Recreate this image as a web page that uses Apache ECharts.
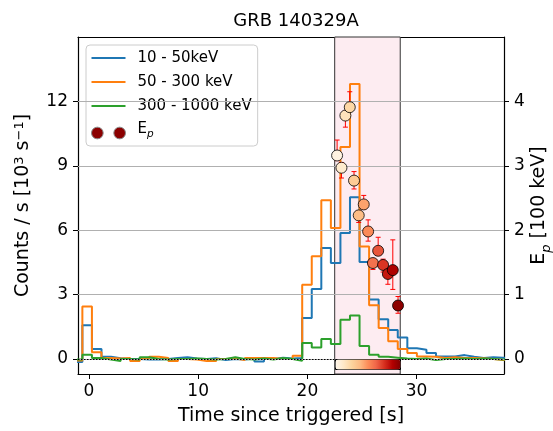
<!DOCTYPE html>
<html>
<head>
<meta charset="utf-8">
<script src="https://cdn.jsdelivr.net/npm/echarts@6/dist/echarts.min.js"></script>
<style>
  html, body { margin: 0; padding: 0; background: #fff; }
  #chart { width: 553px; height: 431px; }
</style>
</head>
<body>
<div id="chart"></div>
<script>
// ---- data ----
const binEdges = [-1.475, -0.6, 0.275, 1.15, 2.025, 2.9, 3.775, 4.65, 5.525, 6.4, 7.275, 8.15, 9.025, 9.9, 10.775, 11.65, 12.525, 13.4, 14.275, 15.15, 16.025, 16.9, 17.775, 18.65, 19.525, 20.4, 21.275, 22.15, 23.025, 23.9, 24.775, 25.65, 26.525, 27.4, 28.275, 29.15, 30.025, 30.9, 31.775, 32.65, 33.525, 34.4, 35.275, 36.15, 37.025, 37.9, 38.775];

const counts10to50 = [-0.14, 1.57, 0.47, 0.10, 0.03, 0.00, 0.00, -0.02, -0.02, 0.00, 0.05, 0.08, 0.02, 0.00, 0.03, -0.05, 0.00, -0.03, 0.02, -0.12, 0.00, 0.06, 0.02, 0.05,
  1.91, 3.26, 5.17, 4.47, 5.87, 7.53, 4.52, 2.77, 1.85, 1.35, 1.00, 0.50,
  0.43, 0.28, 0.12, 0.12, 0.18, 0.10, 0.05, 0.08, 0.06, 0.05];

const counts50to300 = [-0.07, 2.45, 0.31, 0.05, 0.02, 0.05, -0.10, 0.00, 0.10, 0.05, -0.10, 0.00, -0.03, -0.10, -0.10, 0.00, 0.02, -0.05, 0.05, 0.05, 0.05, 0.00, 0.00, 0.15,
  3.46, 4.78, 7.39, 6.10, 9.87, 12.81, 5.24, 2.50, 1.44, 0.82, 0.47, 0.28,
  0.12, 0.10, 0.05, 0.08, 0.05, 0.05, 0.03, 0.00, -0.05, -0.05];

const counts300to1000 = [-0.03, 0.20, 0.05, -0.03, -0.10, 0.00, -0.02, 0.08, 0.00, -0.02, 0.00, 0.00, 0.02, 0.00, -0.02, 0.00, 0.08, 0.00, -0.02, 0.02, -0.03, 0.05, 0.00, -0.08,
  0.74, 0.54, 0.93, 0.70, 1.83, 2.02, 0.60, 0.20, 0.10, 0.06, 0.02, 0.00,
  0.02, -0.05, 0.00, 0.00, 0.02, 0.00, 0.02, 0.00, -0.03, 0.00];

const epTime  = [22.72, 23.12, 23.48, 23.88, 24.27, 24.70, 25.16, 25.56, 26.00, 26.48, 26.93, 27.37, 27.82, 28.30];
const epValue = [3.16, 2.97, 3.78, 3.91, 2.77, 2.23, 2.40, 1.98, 1.49, 1.68, 1.46, 1.32, 1.38, 0.83];
const epLow   = [3.08, 2.81, 3.60, 3.85, 2.64, 2.12, 2.33, 1.83, 1.39, 1.62, 1.35, 1.16, 1.08, 0.71];
const epHigh  = [3.40, 3.05, 3.85, 4.15, 2.91, 2.30, 2.54, 2.16, 1.55, 1.89, 1.55, 1.40, 1.85, 0.97];

const highlightRange = [22.5, 28.5];
const xTicks = [0, 10, 20, 30];
const yTicksLeft = [0, 3, 6, 9, 12];
const yTicksRight = [0, 1, 2, 3, 4];
const seriesNames = ['10 - 50keV', '50 - 300 keV', '300 - 1000 keV', 'Ep'];
const orRd = ['#fff7ec', '#fee8c8', '#fdd49e', '#fdbb84', '#fc8d59', '#ef6548', '#d7301f', '#b30000', '#7f0000'];

// ---- build ----
const FONT = 'DejaVu Sans';
function stepData(vals) {
  const d = vals.map((v, i) => [binEdges[i], v]);
  d.push([binEdges[vals.length], vals[vals.length - 1]]);
  return d;
}
const epData = epTime.map((t, i) => [t, epValue[i]]);
const errData = epTime.map((t, i) => [t, epLow[i], epHigh[i]]);

const chart = echarts.init(document.getElementById('chart'), null, { renderer: 'canvas' });

const lineCommon = { type: 'line', step: 'end', symbol: 'none', showSymbol: false, z: 3, animation: false,
  xAxisIndex: 0, yAxisIndex: 0 };
const lineIcon = 'path://M0,0h34v2.2h-34z';

const option = {
  animation: false,
  title: {
    text: 'GRB 140329A', left: 291, top: 7, textAlign: 'center',
    textStyle: { fontFamily: FONT, fontSize: 18, fontWeight: 'normal', color: '#000' }
  },
  grid: { left: 78, right: 49, top: 37, bottom: 57, containLabel: false, outerBoundsMode: 'none' },
  legend: {
    orient: 'vertical', left: 86, top: 45,
    padding: [5, 6, 6, 5], itemWidth: 34, itemHeight: 14, itemGap: 8, symbolKeepAspect: true,
    backgroundColor: 'rgba(255,255,255,0.8)', borderColor: '#cccccc', borderWidth: 1, borderRadius: 4,
    textStyle: {
      fontFamily: FONT, fontSize: 15, lineHeight: 16, color: '#000', padding: [0, 0, 0, 7],
      rich: {
        e: { fontFamily: FONT, fontSize: 15, lineHeight: 14, color: '#000', verticalAlign: 'bottom', padding: [0, 0, 3, 0] },
        p: { fontFamily: FONT, fontSize: 10.5, lineHeight: 12, fontStyle: 'italic', color: '#000', verticalAlign: 'bottom' }
      }
    },
    formatter: function (name) { return name === 'Ep' ? '{e|E}{p|p}' : name; },
    data: [
      { name: seriesNames[0], icon: lineIcon, itemStyle: { color: '#1f77b4' } },
      { name: seriesNames[1], icon: lineIcon, itemStyle: { color: '#ff7f0e' } },
      { name: seriesNames[2], icon: lineIcon, itemStyle: { color: '#2ca02c' } },
      { name: 'Ep', icon: 'path://M1,6a5.5,5.5 0 1,0 11,0a5.5,5.5 0 1,0 -11,0M22,6a5.5,5.5 0 1,0 11,0a5.5,5.5 0 1,0 -11,0',
        itemStyle: { color: '#8b0000', borderColor: '#888', borderWidth: 1 } }
    ]
  },
  xAxis: [{
    type: 'value', min: -1, max: 38, position: 'bottom',
    name: 'Time since triggered [s]', nameLocation: 'middle', nameGap: 33, nameMoveOverlap: false,
    nameTextStyle: { fontFamily: FONT, fontSize: 19, color: '#000' },
    axisLine: { show: true, onZero: false, lineStyle: { color: '#000', width: 1.2 } },
    axisTick: { show: true, length: 5, inside: false, customValues: xTicks, lineStyle: { color: '#000' } },
    axisLabel: { customValues: xTicks, margin: 9, fontFamily: FONT, fontSize: 17, color: '#000' },
    splitLine: { show: false }
  }, {
    type: 'value', min: -1, max: 38, position: 'top',
    axisLine: { show: true, onZero: false, lineStyle: { color: '#000', width: 1.2 } },
    axisTick: { show: false }, axisLabel: { show: false }, splitLine: { show: false }
  }],
  yAxis: [{
    type: 'value', min: -0.7, max: 15.0, position: 'left',
    name: 'Counts / s [10{s|3} s{s|−1}]', nameLocation: 'middle', nameRotate: 90, nameGap: 44, nameMoveOverlap: false,
    nameTextStyle: {
      fontFamily: FONT, fontSize: 19, color: '#000', verticalAlign: 'bottom',
      rich: { s: { fontFamily: FONT, fontSize: 13, color: '#000', verticalAlign: 'bottom', padding: [0, 0, 8, 0] } }
    },
    axisLine: { show: true, onZero: false, lineStyle: { color: '#000', width: 1.2 } },
    axisTick: { show: true, length: 5, customValues: yTicksLeft, lineStyle: { color: '#000' } },
    axisLabel: { customValues: yTicksLeft, margin: 10, fontFamily: FONT, fontSize: 17, color: '#000' },
    splitLine: { show: false }
  }, {
    type: 'value', min: -0.7 / 3, max: 5.0, position: 'right',
    name: '{e|E}{p|p} {e|[100 keV]}', nameLocation: 'middle', nameRotate: 90, nameGap: 26, nameMoveOverlap: false,
    nameTextStyle: {
      fontFamily: FONT, fontSize: 19, color: '#000',
      rich: {
        e: { fontFamily: FONT, fontSize: 19, color: '#000', verticalAlign: 'bottom', padding: [0, 0, 4, 0] },
        p: { fontFamily: FONT, fontSize: 13, fontStyle: 'italic', color: '#000', verticalAlign: 'bottom' }
      }
    },
    axisLine: { show: true, onZero: false, lineStyle: { color: '#000', width: 1.2 } },
    axisTick: { show: true, length: 5, customValues: yTicksRight, lineStyle: { color: '#000' } },
    axisLabel: { customValues: yTicksRight, margin: 10, fontFamily: FONT, fontSize: 17, color: '#000' },
    splitLine: { show: false }
  }],
  visualMap: [{
    type: 'continuous', min: highlightRange[0], max: highlightRange[1], dimension: 0, seriesIndex: 6,
    orient: 'horizontal', left: 335, top: 359, itemWidth: 10, itemHeight: 65,
    calculable: false, realtime: false, hoverLink: false, text: null, padding: 0,
    borderColor: '#000', borderWidth: 1, z: 10,
    inRange: { color: orRd }
  }],
  series: [
    { // background highlight
      type: 'line', data: [], z: 1, silent: true, xAxisIndex: 0, yAxisIndex: 0,
      markArea: {
        silent: true,
        itemStyle: { color: '#fdecf1', borderColor: '#333', borderWidth: 1 },
        data: [[{ xAxis: highlightRange[0] }, { xAxis: highlightRange[1] }]]
      }
    },
    { // grid lines
      type: 'line', data: [], z: 2, silent: true, xAxisIndex: 0, yAxisIndex: 1,
      markLine: {
        silent: true, symbol: 'none', label: { show: false },
        lineStyle: { color: '#b0b0b0', type: 'solid', width: 1 },
        data: yTicksRight.map(v => ({ yAxis: v }))
      }
    },
    Object.assign({}, lineCommon, { name: seriesNames[0], data: stepData(counts10to50), lineStyle: { color: '#1f77b4', width: 2 }, itemStyle: { color: '#1f77b4' } }),
    Object.assign({}, lineCommon, { name: seriesNames[1], data: stepData(counts50to300), lineStyle: { color: '#ff7f0e', width: 2 }, itemStyle: { color: '#ff7f0e' } }),
    Object.assign({}, lineCommon, { name: seriesNames[2], data: stepData(counts300to1000), lineStyle: { color: '#2ca02c', width: 2 }, itemStyle: { color: '#2ca02c' } }),
    { // error bars
      type: 'custom', xAxisIndex: 0, yAxisIndex: 1, z: 5, silent: true,
      data: errData,
      encode: { x: 0, y: [1, 2] },
      renderItem: function (params, api) {
        const x = api.value(0);
        const a = api.coord([x, api.value(1)]);
        const b = api.coord([x, api.value(2)]);
        const c = 2.5;
        const st = { stroke: '#ff0000', lineWidth: 1 };
        return { type: 'group', children: [
          { type: 'line', shape: { x1: a[0], y1: a[1], x2: b[0], y2: b[1] }, style: st },
          { type: 'line', shape: { x1: a[0] - c, y1: a[1], x2: a[0] + c, y2: a[1] }, style: st },
          { type: 'line', shape: { x1: b[0] - c, y1: b[1], x2: b[0] + c, y2: b[1] }, style: st }
        ] };
      }
    },
    { // Ep points
      name: 'Ep', type: 'scatter', xAxisIndex: 0, yAxisIndex: 1, z: 6,
      data: epData, symbolSize: 11,
      itemStyle: { color: '#8b0000', borderColor: '#000', borderWidth: 0.8, opacity: 1 }
    },
    { // zero dotted line
      type: 'line', data: [], z: 7, silent: true, xAxisIndex: 0, yAxisIndex: 0,
      markLine: {
        silent: true, symbol: 'none', label: { show: false },
        lineStyle: { color: '#000', type: [1.5, 1.5], width: 1 },
        data: [{ yAxis: 0 }]
      }
    }
  ]
};
chart.setOption(option);
</script>
</body>
</html>
